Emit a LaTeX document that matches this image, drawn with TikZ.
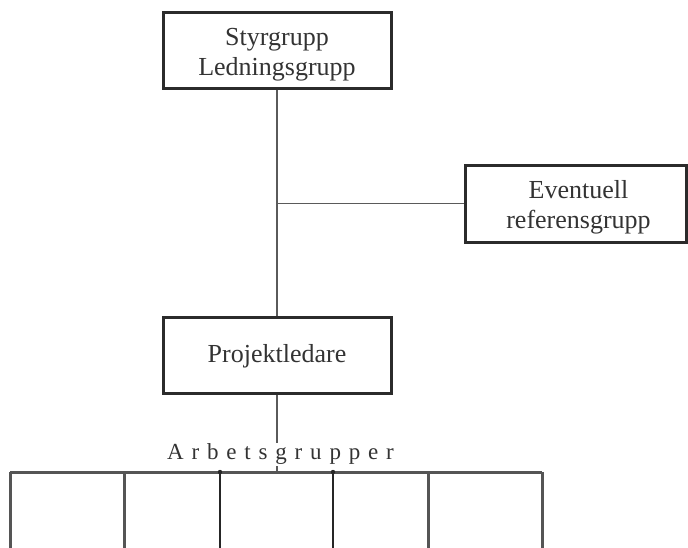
\documentclass[tikz,border=0pt]{standalone}
\usepackage{fontspec}
\setmainfont{Liberation Serif}
\definecolor{boxcol}{HTML}{2B2B2B}
\definecolor{lncol}{HTML}{5A5A5A}
\definecolor{txtcol}{HTML}{333333}
\definecolor{grpcol}{HTML}{555555}
\begin{document}
\begin{tikzpicture}[x=1pt,y=-1pt,
  box/.style={draw=boxcol, line width=3pt, rectangle, inner sep=0pt},
  boxtext/.style={align=center, text=txtcol, inner sep=0pt,
    font=\fontsize{26}{30}\selectfont},
  conn/.style={draw=lncol, line width=1.5pt},
  grpline/.style={draw=grpcol, line width=3pt},
  grpdark/.style={draw=black!85, line width=2.5pt}]
\useasboundingbox (0,0) rectangle (688,547);

% organisation boxes
\node[box, minimum width=228pt, minimum height=76pt] (styr) at (277,50) {};
\node[box, minimum width=221pt, minimum height=77pt] (ref) at (575.5,203.5) {};
\node[box, minimum width=228pt, minimum height=76pt] (proj) at (277,355) {};

% box labels
\node[boxtext, yshift=-4.5pt] (styrtxt) at (styr.center) {Styrgrupp\\Ledningsgrupp};
\node[boxtext, yshift=-3.5pt, xshift=3pt] (reftxt) at (ref.center) {Eventuell\\referensgrupp};
\node[boxtext, yshift=-1pt] (projtxt) at (proj.center) {Projektledare};

% letter-spaced heading above the working groups
\node[anchor=base west, inner sep=0pt, text=txtcol,
  font=\fontsize{23}{27}\selectfont\addfontfeature{LetterSpace=34}]
  (arb) at (167,459) {Arbetsgrupper};

% connectors
\coordinate (j) at (styr.south |- ref.west);
\draw[conn] (styr.south) -- (proj.north);
\draw[conn] (j) -- (ref.west);
\coordinate (pl) at (proj.south |- arb.north);
\draw[conn] (proj.south) -- (pl);

% working-group row, open at the bottom
\coordinate (gL) at (10,472);
\coordinate (gR) at (542,472);
\coordinate (tk) at (proj.south |- 0,466);
\draw[conn] (tk) -- (proj.south |- gL);
\draw[grpline] (gL) -- (gR);
\foreach \gx in {10,124,428,542}
  \draw[grpline] (\gx,472) -- (\gx,548);
\foreach \gx in {220,333} {
  \draw[grpdark] (\gx,472) -- (\gx,548);
  \fill[black!85] (\gx,472) circle (2.2pt);
}
\end{tikzpicture}
\end{document}
